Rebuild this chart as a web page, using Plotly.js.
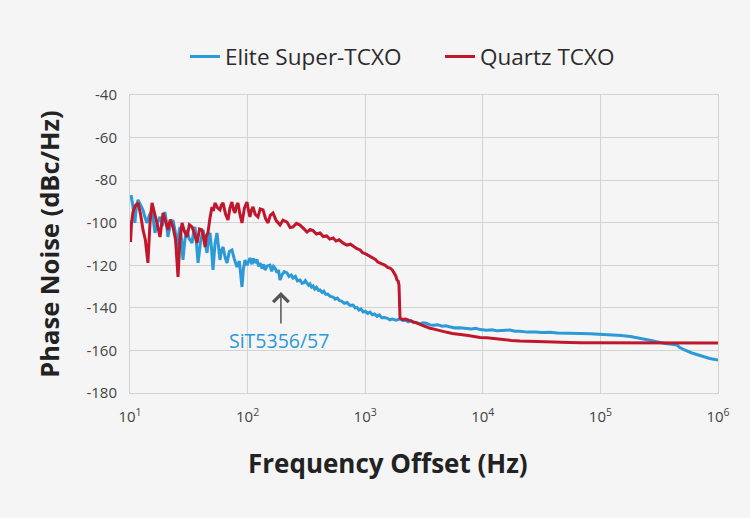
<!DOCTYPE html>
<html>
<head>
<meta charset="utf-8">
<script src="https://cdn.plot.ly/plotly-3.0.1.min.js"></script>
<style>
  html, body { margin: 0; padding: 0; background: #f5f5f5; }
  #chart { width: 750px; height: 518px; }
</style>
</head>
<body>
<div id="chart"></div>
<script>
// ---- Data ----
const seriesNames = ["Elite Super-TCXO", "Quartz TCXO"];

const eliteFreq = [10.2, 10.6, 11.0, 11.3, 11.7, 12.2, 12.9, 13.4, 13.95, 14.6, 15.4, 15.8, 16.3, 17.1, 18.0, 18.9, 19.8, 20.4, 21.0, 22.0, 23.2, 24.2, 25.1, 25.8, 26.6, 27.4, 28.2, 29.3, 30.5, 31.8, 33.7, 34.6, 35.7, 36.8, 37.9, 39.8, 41.8, 43.4, 45.2, 46.5, 47.9, 49.3, 50.8, 52.8, 54.9, 56.5, 58.2, 60.0, 61.8, 64.3, 66.8, 70.0, 73.6, 77.0, 81.2, 85.0, 89.6, 92.0, 95.0, 99.0, 104.7, 109, 112, 115.6, 120, 124, 127.4, 133, 137, 140.6, 147, 154.9, 160, 166, 171, 178, 183, 188.6, 196, 205, 216.3, 225, 235, 243.3, 255, 265, 279, 290, 300, 310, 320, 330, 339, 350, 360, 372, 385, 400, 413, 430, 445, 460, 480, 505, 533, 555, 580, 605, 630, 665, 700, 745, 790, 820, 850, 885, 920, 960, 1000, 1050, 1100, 1150, 1200, 1260, 1320, 1380, 1450, 1532, 1620, 1700, 1830, 1977, 2080, 2200, 2320, 2450, 2580, 2700, 2924, 3100, 3300, 3550, 3800, 4150, 4500, 4850, 5200, 5800, 6400, 7200, 8000, 8700, 9466, 10800, 12000, 13200, 14500, 15700, 17000, 18800, 20700, 24000, 28000, 32000, 37200, 43000, 50000, 58000, 67100, 82000, 99300, 120000, 150000, 180000, 217300, 245000, 270000, 295000, 321400, 355000, 390000, 420000, 448000, 470000, 520000, 600000, 703000, 850000, 1000000];
const eliteDb = [-87.0, -92.5, -100.1, -93.0, -89.3, -91.5, -94.0, -97.5, -100.1, -96.5, -94.0, -99.0, -104.8, -100.0, -97.3, -101.5, -95.0, -99.5, -106.7, -101.0, -98.7, -104.0, -112.8, -106.0, -102.0, -108.0, -117.5, -108.0, -103.4, -107.5, -109.5, -105.0, -102.0, -110.0, -118.9, -109.0, -103.4, -109.0, -114.2, -108.0, -104.8, -112.0, -122.2, -110.0, -104.8, -111.0, -117.5, -113.0, -111.4, -116.0, -118.9, -113.5, -112.8, -117.0, -120.8, -118.0, -130.2, -122.0, -117.5, -120.0, -116.6, -119.5, -116.8, -118.9, -117.2, -120.5, -118.9, -121.5, -119.5, -122.2, -120.3, -119.9, -122.8, -120.5, -121.3, -123.5, -122.2, -126.9, -124.5, -123.0, -123.6, -125.2, -124.6, -126.0, -125.2, -127.3, -126.9, -128.5, -128.3, -127.2, -128.6, -129.4, -128.8, -130.2, -129.7, -131.2, -130.4, -131.8, -131.6, -132.8, -132.2, -133.6, -133.5, -134.6, -134.9, -135.9, -135.4, -136.6, -136.8, -137.9, -137.5, -138.9, -138.7, -140.0, -139.8, -141.0, -140.5, -141.9, -141.6, -142.6, -142.0, -143.2, -142.9, -144.0, -143.3, -144.6, -144.5, -144.8, -145.6, -145.3, -145.8, -145.2, -145.9, -145.8, -146.6, -146.0, -147.0, -146.8, -147.5, -147.0, -147.2, -148.0, -148.2, -147.9, -148.6, -148.4, -148.9, -149.4, -149.3, -149.8, -149.9, -149.6, -150.2, -150.5, -150.3, -150.8, -150.7, -150.3, -150.4, -151.0, -151.0, -151.4, -151.3, -151.6, -151.5, -151.8, -151.8, -151.9, -152.0, -152.2, -152.4, -152.6, -153.0, -153.5, -154.2, -154.8, -155.3, -155.8, -156.3, -156.7, -157.0, -157.2, -157.4, -158.5, -159.8, -161.2, -162.5, -163.8, -164.5];

const quartzFreq = [10.1, 10.3, 10.6, 11.1, 11.7, 12.3, 12.9, 13.5, 14.2, 14.8, 15.4, 15.8, 16.3, 17.1, 18.0, 18.5, 19.1, 20.0, 21.0, 22.0, 23.2, 24.4, 25.6, 26.6, 27.7, 29.0, 30.5, 32.0, 33.7, 35.3, 37.2, 39.0, 40.9, 42.2, 43.5, 44.7, 46.0, 47.8, 49.8, 51.2, 52.8, 55.5, 58.2, 60.0, 61.8, 65.0, 68.1, 70.8, 73.6, 76.0, 78.1, 80.5, 82.8, 86.0, 89.6, 94.0, 98.8, 101.5, 104.7, 108, 111.2, 116, 122.5, 128, 135.2, 142, 149.0, 156, 164.4, 175, 188.6, 200, 216.3, 230, 243.3, 260, 279, 300, 320, 340, 360, 385, 413, 440, 470, 500, 533, 565, 600, 650, 700, 750, 800, 850, 905, 950, 1000, 1050, 1100, 1160, 1220, 1280, 1337, 1410, 1480, 1550, 1626, 1700, 1750, 1820, 1864, 1910, 1938, 1977, 2080, 2200, 2400, 2548, 2750, 2900, 3100, 3300, 3556, 3850, 4200, 4550, 4963, 5500, 6000, 6700, 7500, 8400, 9466, 10800, 12000, 13500, 15000, 17500, 20700, 25000, 30000, 37000, 45000, 55000, 67100, 80000, 100000, 140000, 200000, 300000, 500000, 700000, 1000000];
const quartzDb = [-109.1, -100.0, -95.0, -92.0, -90.7, -96.0, -103.4, -108.0, -118.9, -100.0, -90.7, -93.0, -95.4, -101.0, -106.7, -100.0, -95.4, -99.0, -103.4, -98.5, -102.0, -108.0, -125.5, -108.0, -100.1, -104.0, -106.7, -101.0, -102.0, -105.0, -109.5, -103.0, -103.4, -107.0, -111.4, -106.0, -104.8, -98.0, -92.6, -94.5, -90.7, -93.0, -94.0, -91.5, -90.7, -96.0, -98.7, -93.0, -90.3, -94.0, -95.4, -92.0, -90.7, -96.0, -100.1, -93.0, -90.3, -94.0, -97.3, -94.0, -92.6, -96.0, -97.3, -93.5, -94.0, -98.0, -100.1, -96.5, -95.4, -99.0, -101.1, -98.8, -99.7, -102.3, -102.0, -100.3, -101.1, -102.8, -104.4, -103.2, -103.7, -105.3, -104.8, -106.5, -106.2, -107.7, -107.2, -108.6, -108.0, -109.6, -110.5, -110.1, -111.3, -112.2, -112.8, -114.1, -114.5, -115.2, -116.1, -116.7, -117.2, -118.5, -118.9, -119.6, -120.0, -121.0, -121.3, -122.2, -123.5, -125.0, -126.9, -127.5, -129.3, -144.8, -145.5, -145.3, -146.0, -146.4, -147.2, -147.6, -148.3, -148.9, -149.6, -150.0, -150.6, -151.0, -151.5, -152.0, -152.4, -152.6, -153.0, -153.5, -153.9, -154.1, -154.4, -154.8, -155.0, -155.3, -155.6, -155.8, -156.0, -156.1, -156.2, -156.3, -156.4, -156.4, -156.4, -156.5, -156.5, -156.5, -156.5, -156.5, -156.5];

const yTickVals = [-40, -60, -80, -100, -120, -140, -160, -180];
const yTickText = ["-40", "-60", "-80", "-100", "-120", "-140", "-160", "-180"];
const xTickVals = [10, 100, 1000, 10000, 100000, 1000000];
const xTickText = ["10<sup>1</sup>", "10<sup>2</sup>", "10<sup>3</sup>", "10<sup>4</sup>", "10<sup>5</sup>", "10<sup>6</sup>"];

const annotationLabel = "SiT5356/57";
const annotationFreq = 192;   // Hz, point the arrow marks
const annotationDb = -132.5;
const labelFreq = 185;
const labelDb = -155.1;
const xTitle = "Frequency Offset (Hz)";
const yTitle = "Phase Noise (dBc/Hz)";

// ---- Styles ----
const FONT = "'Open Sans', 'Noto Sans', sans-serif";
const BLUE = "#2b9ad6";
const RED = "#c1172c";
const GRID = "#d3d3d3";

const traces = [
  { x: eliteFreq, y: eliteDb, name: seriesNames[0], type: "scatter", mode: "lines",
    line: { color: BLUE, width: 3 } },
  { x: quartzFreq, y: quartzDb, name: seriesNames[1], type: "scatter", mode: "lines",
    line: { color: RED, width: 3 } }
];

const layout = {
  width: 750, height: 518,
  paper_bgcolor: "#f5f5f5",
  plot_bgcolor: "#f5f5f5",
  margin: { l: 130, r: 32, t: 95, b: 125 },
  font: { family: FONT, color: "#333" },
  showlegend: true,
  legend: {
    orientation: "h", x: 55 / 588, xanchor: "left", y: 1.128, yanchor: "middle",
    font: { family: FONT, size: 22.5, color: "#2b2b2b" },
    itemwidth: 30, entrywidth: 210, entrywidthmode: "pixels",
    bgcolor: "rgba(0,0,0,0)", traceorder: "normal"
  },
  xaxis: {
    type: "log", range: [1, 6],
    tickvals: xTickVals, ticktext: xTickText,
    showgrid: true, gridcolor: GRID, gridwidth: 1,
    showline: true, linecolor: GRID, linewidth: 1, mirror: true,
    zeroline: false, ticks: "", ticklabelstandoff: 10,
    tickfont: { family: FONT, size: 15, color: "#444" }
  },
  yaxis: {
    range: [-180, -40],
    tickvals: yTickVals, ticktext: yTickText,
    showgrid: true, gridcolor: GRID, gridwidth: 1,
    showline: true, linecolor: GRID, linewidth: 1, mirror: true,
    zeroline: false, ticks: "", ticklabelstandoff: 9,
    tickfont: { family: FONT, size: 15, color: "#444" },
    title: { text: yTitle, font: { family: FONT, size: 25.5, color: "#222", weight: "bold" }, standoff: 19 }
  },
  annotations: [
    { xref: "paper", yref: "paper", x: (388 - 130) / 588, y: (393 - 463) / 298,
      xanchor: "center", yanchor: "middle", showarrow: false,
      text: "<b>" + xTitle + "</b>",
      font: { family: FONT, size: 26, color: "#222" } },
    { x: Math.log10(labelFreq), y: labelDb, xref: "x", yref: "y",
      xanchor: "center", yanchor: "middle", showarrow: false,
      text: annotationLabel, font: { family: FONT, size: 19.5, color: BLUE } },
    { x: Math.log10(annotationFreq), y: annotationDb, xref: "x", yref: "y",
      text: "", showarrow: true, ax: 0, ay: 33,
      arrowhead: 4, arrowsize: 2, arrowwidth: 1.5, arrowcolor: "#555" }
  ]
};

Plotly.newPlot("chart", traces, layout, { displayModeBar: false, staticPlot: true });
</script>
</body>
</html>
